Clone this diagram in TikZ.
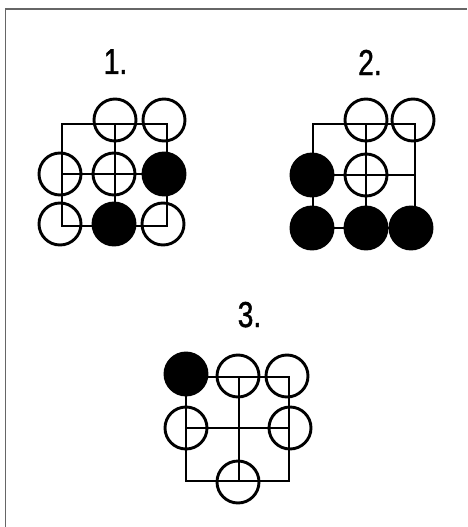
\documentclass[tikz,border=0pt]{standalone}
\usepackage{fontspec}
\newfontfamily\labfont{Liberation Sans}[FakeStretch=0.78,FakeBold=1.2]
\begin{document}
\begin{tikzpicture}[x=1pt,y=-1pt,
  stone/.style={circle,minimum size=42pt,inner sep=0pt,line width=2.9pt},
  openst/.style={stone,draw=black},
  blackst/.style={stone,fill=black,draw=black},
  grid/.style={line width=2.6pt,line cap=rect},
  lab/.style={font=\labfont\fontsize{36}{36}\selectfont,inner sep=0pt,anchor=base}]
\useasboundingbox (0,0) rectangle (467,527);
\fill[white] (0,0) rectangle (467,527);
\draw[line width=1.6pt,gray!80!black] (5.5,527) -- (5.5,9) -- (467,9);
% labels
\node[lab] (l1) at (115.5,74) {1.};
\node[lab] (l2) at (370,75) {2.};
\node[lab] (l3) at (249.5,327) {3.};
% diagram 1
\draw[grid] (62,124) rectangle (167,226);
\draw[grid] (115,124) -- (115,226);
\draw[grid] (62,174) -- (167,174);
\node[openst] (a12) at (115,120) {};
\node[openst] (a13) at (164,120) {};
\node[openst] (a21) at (60,174) {};
\node[openst] (a22) at (114,174) {};
\node[blackst] (a23) at (164,174) {};
\node[openst] (a31) at (60,224) {};
\node[blackst] (a32) at (114,224) {};
\node[openst] (a33) at (163,224) {};
% diagram 2
\draw[grid] (313,124) rectangle (415,228);
\draw[grid] (366,124) -- (366,228);
\draw[grid] (313,175) -- (415,175);
\node[openst] (b12) at (366,120) {};
\node[openst] (b13) at (413,120) {};
\node[blackst] (b21) at (312,175) {};
\node[openst] (b22) at (366,175) {};
\node[blackst] (b31) at (312,228) {};
\node[blackst] (b32) at (366,228) {};
\node[blackst] (b33) at (411,228) {};
% diagram 3
\draw[grid] (186,377) rectangle (289,481);
\draw[grid] (239,377) -- (239,481);
\draw[grid] (186,428) -- (289,428);
\node[blackst] (c11) at (186,374) {};
\node[openst] (c12) at (238,376) {};
\node[openst] (c13) at (287,376) {};
\node[openst] (c21) at (186,428) {};
\node[openst] (c23) at (290,428) {};
\node[openst] (c32) at (238,482) {};
\end{tikzpicture}
\end{document}
